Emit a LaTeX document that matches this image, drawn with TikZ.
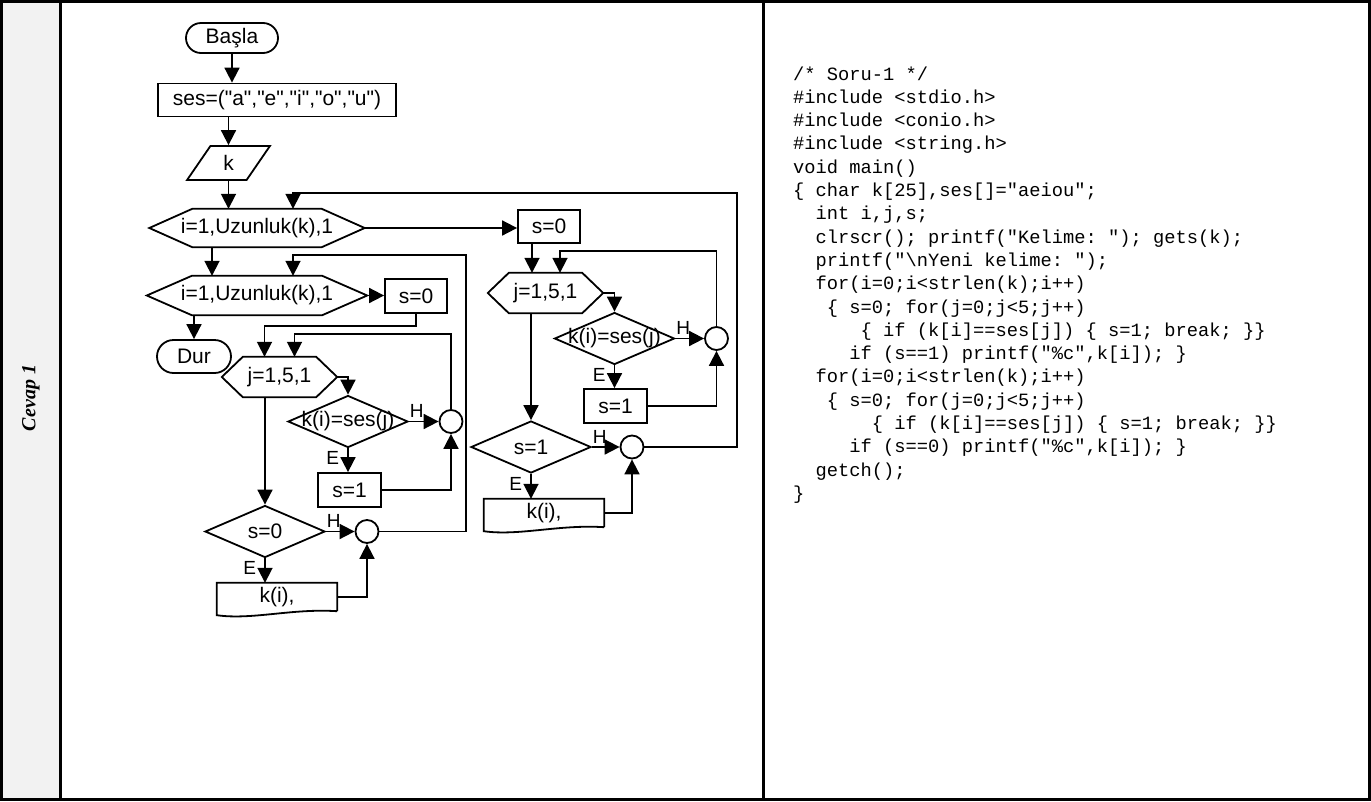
\documentclass[tikz,border=0pt]{standalone}
\usepackage{fontspec}
\setmainfont{Liberation Sans}[Ligatures=TeXOff]
\setmonofont{Liberation Mono}
\newfontfamily\cevapfont{Liberation Serif}
\usetikzlibrary{arrows.meta,positioning,shapes.geometric,shapes.misc,calc}
\newcommand{\fcfont}{\fontsize{21}{25}\selectfont}
\newcommand{\codefont}{\ttfamily\frenchspacing\fontsize{18.75}{23.3}\selectfont}
% outlines drawn round plain rectangle nodes
\newcommand{\docline}[1]{\draw[fc] (#1.south east) -- (#1.north east) -- (#1.north west)
  -- ($(#1.south west)+(0,4)$) .. controls +(35,5) and +(-45,-3) .. (#1.south east);}
\newcommand{\hexline}[2]{\draw[fc] (#1.west) -- ($(#1.north west)+(#2,0)$) -- ($(#1.north east)+(-#2,0)$)
  -- (#1.east) -- ($(#1.south east)+(-#2,0)$) -- ($(#1.south west)+(#2,0)$) -- cycle;}

\begin{document}
\begin{tikzpicture}[x=1pt,y=-1pt,
  font=\fcfont,
  fc/.style={line width=1.8pt},
  arr/.style={fc,-{Triangle[length=15pt,width=15pt]}},
  term/.style={rounded rectangle,draw,fc,inner sep=0pt,minimum height=30pt},
  proc/.style={rectangle,draw,fc,inner sep=0pt,minimum width=62pt,minimum height=34pt},
  inbox/.style={trapezium,trapezium left angle=66,trapezium right angle=114,trapezium stretches=true,
                draw,fc,inner sep=0pt,minimum width=83pt,minimum height=34pt},
  loopbox/.style={rectangle,inner sep=0pt,minimum width=215pt,minimum height=38pt},
  dec/.style={diamond,draw,fc,inner sep=0pt,minimum width=120pt,minimum height=52pt},
  conn/.style={circle,draw,fc,inner sep=0pt,minimum size=23pt},
  docbox/.style={rectangle,inner sep=0pt,minimum width=120pt,minimum height=28pt},
  hlbl/.style={font=\fontsize{19}{22}\selectfont,inner sep=0pt,pos=0,anchor=south west,yshift=3pt},
  elbl/.style={font=\fontsize{19}{22}\selectfont,inner sep=0pt,pos=0.4,left=8pt},
  codeline/.style={anchor=base west,inner sep=0pt,font=\codefont}]

\useasboundingbox (0,0) rectangle (1371,801);

% frame
\fill[gray!10] (2,2) rectangle (60,799);
\draw[line width=3pt] (1.5,1.5) rectangle (1369.5,799.5);
\draw[line width=3pt] (60,1.5) -- (60,799.5);
\draw[line width=3pt] (763,1.5) -- (763,799.5);
\node[rotate=90,font=\cevapfont\bfseries\itshape\fontsize{20}{24}\selectfont] (cevap) at (31,398) {Cevap 1};

% ---------- main chain ----------
\node[term,minimum width=92pt] (basla) at (232,38) {Başla};
\node[proc,minimum width=238pt,minimum height=33pt] (ses) at (277,100) {ses=("a","e","i","o","u")};
\node[inbox] (kin) at (228.5,163) {k};
\node[loopbox] (hex1) at (257,228) {i=1,Uzunluk(k),1};
\hexline{hex1}{43}
\node[loopbox,minimum width=220pt,minimum height=39pt] (hex2) at (257,295.5) {i=1,Uzunluk(k),1};
\hexline{hex2}{45}
\node[proc] (sA) at (416,296) {s=0};
\node[term,minimum width=74pt,minimum height=33pt] (dur) at (194,356.5) {Dur};

% ---------- left inner loop ----------
\node[loopbox,minimum width=115pt,minimum height=40pt] (jA) at (279.5,377) {j=1,5,1};
\hexline{jA}{21}
\node[dec] (dA) at (348,421.5) {\makebox[0pt]{k(i)=ses(j)}};
\node[conn] (cA) at (451,421.5) {};
\node[proc,minimum width=63pt] (s1A) at (349.5,490) {s=1};
\node[dec] (dB) at (265,531.5) {\makebox[0pt]{s=0}};
\node[conn] (cB) at (367,531.5) {};
\node[docbox] (outA) at (277,597) {k(i),};
\docline{outA}

% ---------- right inner loop ----------
\node[proc,minimum height=33pt] (sB) at (549,226.5) {s=0};
\node[loopbox,minimum width=115pt,minimum height=40pt] (jB) at (545.5,293) {j=1,5,1};
\hexline{jB}{21}
\node[dec] (dC) at (614.5,338.5) {\makebox[0pt]{k(i)=ses(j)}};
\node[conn] (cC) at (716.5,338.5) {};
\node[proc,minimum width=63pt] (s1B) at (615.5,406) {s=1};
\node[dec] (dD) at (531,447) {\makebox[0pt]{s=1}};
\node[conn] (cD) at (632,447) {};
\node[docbox] (outB) at (544,513) {k(i),};
\docline{outB}

\coordinate (rt1) at (737,193);
\coordinate (rt2) at (466,255);

% connectors
\draw[arr] (basla.south) -- (basla.south |- ses.north);
\draw[arr] (kin.north |- ses.south) -- (kin.north);
\draw[arr] (kin.south) -- (kin.south |- hex1.north);
\draw[arr] (cD.east) -| (rt1) -| ($(hex1.north)+(36,0)$);
\draw[arr] (hex1.east) -- (hex1.east -| sB.west);
\draw[arr] ($(hex1.south)+(-45,0)$) -- ($(hex2.north)+(-45,0)$);
\draw[arr] (cB.east) -| (rt2) -| ($(hex2.north)+(36,0)$);
\draw[arr] (hex2.east) -- (hex2.east -| sA.west);
\draw[arr] (dur.north |- hex2.south) -- (dur.north);

\draw[arr] (sA.south) -- ++(0,12) -| ($(jA.north)+(-15,0)$);
\draw[arr] (cA.north) |- ($(jA.north)+(15,-23)$) -- ($(jA.north)+(15,0)$);
\draw[arr] (jA.east) -| (dA.north);
\draw[arr] (dA.east) -- node[hlbl] (hA) {H} (cA.west);
\draw[arr] (dA.south) -- node[elbl] (eA) {E} (dA.south |- s1A.north);
\draw[arr] (s1A.east) -| (cA.south);
\draw[arr] (dB.north |- jA.south) -- (dB.north);
\draw[arr] (dB.east) -- node[hlbl] (hB) {H} (cB.west);
\draw[arr] (dB.south) -- node[elbl] (eB) {E} (dB.south |- outA.north);
\draw[arr] (outA.east) -| (cB.south);

\draw[arr] ($(sB.south)+(-17,0)$) -- ($(jB.north)+(-13.5,0)$);
\draw[arr] (cC.north) |- ($(jB.north)+(14.5,-22)$) -- ($(jB.north)+(14.5,0)$);
\draw[arr] (jB.east) -| (dC.north);
\draw[arr] (dC.east) -- node[hlbl] (hC) {H} (cC.west);
\draw[arr] (dC.south) -- node[elbl] (eC) {E} (dC.south |- s1B.north);
\draw[arr] (s1B.east) -| (cC.south);
\draw[arr] (dD.north |- jB.south) -- (dD.north);
\draw[arr] (dD.east) -- node[hlbl] (hD) {H} (cD.west);
\draw[arr] (dD.south) -- node[elbl] (eD) {E} (dD.south |- outB.north);
\draw[arr] (outB.east) -| (cD.south);

% ---------- program text ----------
\foreach \lin [count=\i] in {
  {/* Soru-1 */},
  {\#include <stdio.h>},
  {\#include <conio.h>},
  {\#include <string.h>},
  {void main()},
  {\{ char k[25],ses[]="aeiou";},
  {~~int i,j,s;},
  {~~clrscr(); printf("Kelime:~"); gets(k);},
  {~~printf("\textbackslash nYeni kelime:~");},
  {~~for(i=0;i<strlen(k);i++)},
  {~~~\{ s=0; for(j=0;j<5;j++)},
  {~~~~~~\{ if (k[i]==ses[j]) \{ s=1; break; \}\}},
  {~~~~~if (s==1) printf("\%c",k[i]); \}},
  {~~for(i=0;i<strlen(k);i++)},
  {~~~\{ s=0; for(j=0;j<5;j++)},
  {~~~~~~~\{ if (k[i]==ses[j]) \{ s=1; break; \}\}},
  {~~~~~if (s==0) printf("\%c",k[i]); \}},
  {~~getch();},
  {\}}}
  \node[codeline] (c\i) at (793,{80+(\i-1)*23.3}) {\lin};
\end{tikzpicture}
\end{document}
